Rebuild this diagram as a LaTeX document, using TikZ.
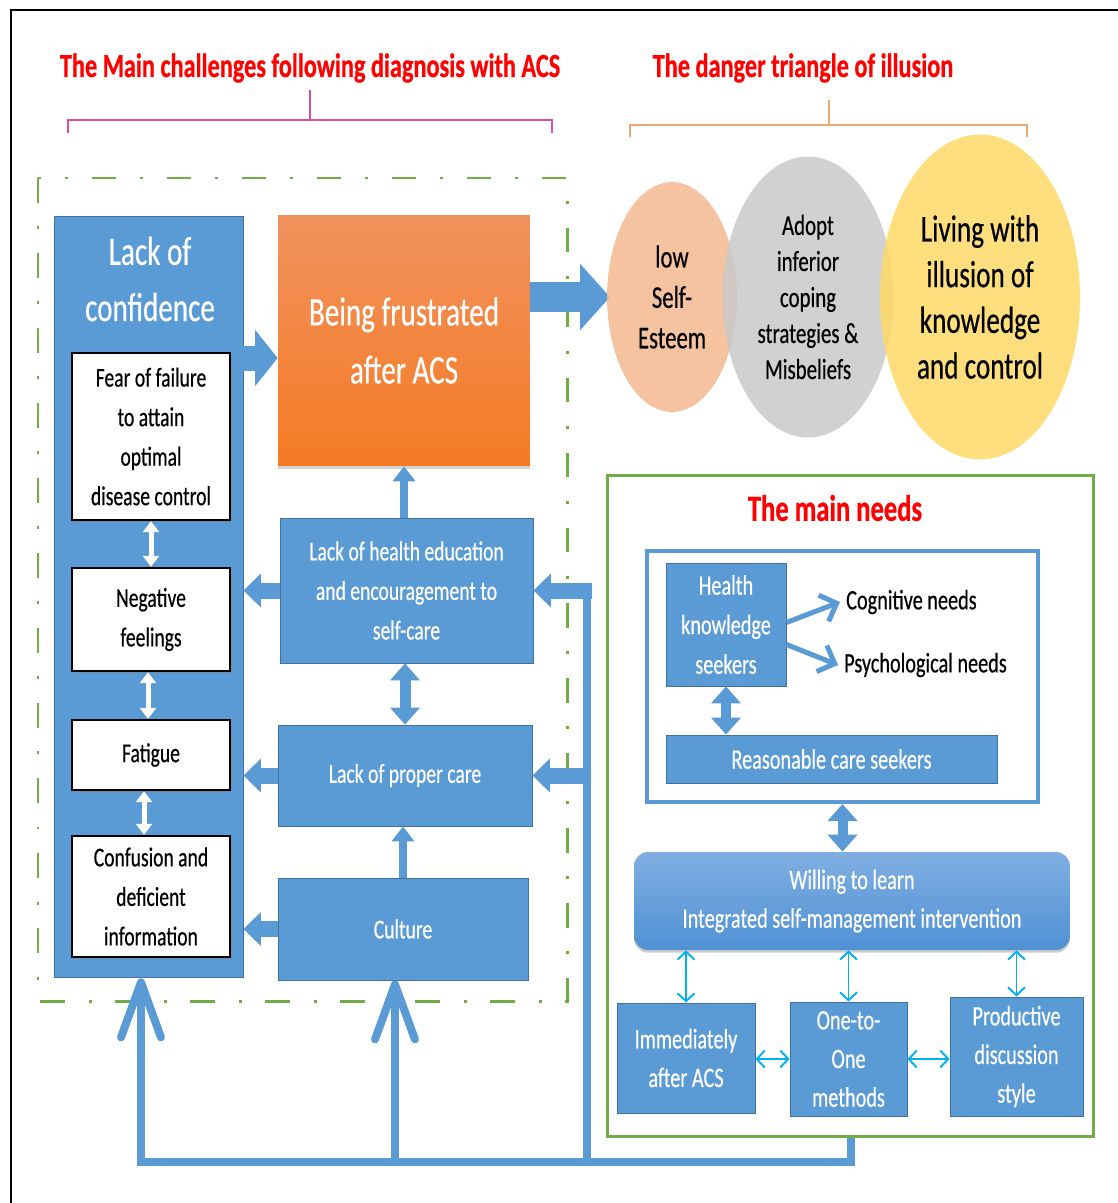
\documentclass[tikz,border=0pt]{standalone}
\usepackage{fontspec}
\setmainfont{Carlito}[FakeStretch=0.72, UprightFeatures={FakeBold=0.45}, BoldFeatures={FakeBold=0.6}]
\usepackage{xcolor}
\usetikzlibrary{arrows.meta,calc,positioning,shapes.geometric,shadows}
\definecolor{boxblue}{RGB}{91,155,213}
\definecolor{boxedge}{RGB}{65,113,156}
\definecolor{frgreen}{RGB}{112,173,71}
\definecolor{linkcyan}{RGB}{0,176,240}
\definecolor{orgtop}{RGB}{241,146,94}
\definecolor{orgbot}{RGB}{244,123,36}
\definecolor{salmon}{RGB}{245,184,145}
\definecolor{ellgray}{RGB}{201,201,201}
\definecolor{ellyellow}{RGB}{255,217,102}
\definecolor{willtop}{RGB}{128,175,226}
\definecolor{willbot}{RGB}{80,145,212}
\definecolor{brpink}{RGB}{219,80,158}
\definecolor{brorange}{RGB}{242,165,115}
\newcommand\cellfont{\fontsize{15.5}{22.5}\selectfont}

\begin{document}
\begin{tikzpicture}[x=0.02cm,y=-0.02cm,
  bluebox/.style={rectangle, fill=boxblue, draw=boxedge, line width=0.5pt, text=white, align=center, inner sep=0pt, font=\cellfont},
  whitebox/.style={rectangle, fill=white, draw=black, line width=1.4pt, align=center, inner sep=0pt, font=\cellfont,
    drop shadow={opacity=0.45, shadow xshift=1.2pt, shadow yshift=-1.2pt}},
  bubble/.style={ellipse, inner sep=0pt, fill opacity=0.85, text opacity=1, align=center},
  heading/.style={text=red, font=\fontsize{19.2}{23}\selectfont\bfseries},
  needtxt/.style={font=\fontsize{16}{20}\selectfont},
  fatarr/.style={boxblue, line width=0.5cm, -{Triangle[length=0.45cm,width=1.1cm]}},
  sidearr/.style={boxblue, line width=0.32cm, -{Triangle[length=0.35cm,width=0.66cm]}},
  uparr/.style={boxblue, line width=0.16cm, -{Triangle[length=0.3cm,width=0.44cm]}},
  duparr/.style={boxblue, line width=0.22cm, {Triangle[length=0.34cm,width=0.58cm]}-{Triangle[length=0.34cm,width=0.58cm]}},
  wlink/.style={white, line width=0.1cm, {Triangle[length=0.22cm,width=0.32cm]}-{Triangle[length=0.22cm,width=0.32cm]}},
  clink/.style={linkcyan, line width=1.1pt, {Straight Barb[length=0.16cm,width=0.34cm]}-{Straight Barb[length=0.16cm,width=0.34cm]}},
  needarr/.style={boxblue, line width=0.1cm, -{Straight Barb[length=0.28cm,width=0.56cm]}},
  bus/.style={boxblue, line width=0.16cm},
  busarr/.style={bus, -{Straight Barb[length=1.1cm,width=0.8cm,round]}}]
\useasboundingbox (0,0) rectangle (1118,1203);
% outer frame
\draw[line width=1.7pt] (11,1203) -- (11,10) -- (1118,10);

% headings and brackets
\node[heading] (chal) at (310,68) {The Main challenges following diagnosis with ACS};
\node[heading] (illu) at (803,68) {The danger triangle of illusion};
\draw[brpink, line width=1.1pt] (68,133) -- (68,120) -- (552,120) -- (552,133);
\draw[brpink, line width=1.1pt] (310,120) -- (310,90);
\draw[brorange, line width=1.1pt] (630,137) -- (630,125) -- (1027,125) -- (1027,137);
\draw[brorange, line width=1.1pt] (829,125) -- (829,100);

% frames
\draw[frgreen, line width=1.7pt, dash pattern=on 14pt off 13.5pt on 1.7pt off 13.5pt] (38,178) rectangle (567,1001);
\node[draw=frgreen, line width=1.7pt, minimum width=9.74cm, minimum height=13.24cm] (needs) at (850.5,806) {};

% challenges
\node[bluebox, minimum width=3.78cm, minimum height=15.24cm] (conf) at (148.5,597) {};
\node[text=white, align=center, font=\fontsize{23}{32}\selectfont] (conftitle) at (150,279) {Lack of\\confidence};
\node[whitebox, minimum width=3.16cm, minimum height=3.34cm] (fear) at (151,436.5) {Fear of failure\\to attain\\optimal\\disease control};
\node[whitebox, minimum width=3.16cm, minimum height=2.06cm] (neg) at (151,619.5) {Negative\\feelings};
\node[whitebox, minimum width=3.16cm, minimum height=1.4cm] (fat) at (151,755) {Fatigue};
\node[whitebox, minimum width=3.16cm, minimum height=2.42cm] (info) at (151,896.5) {Confusion and\\deficient\\information};
\node[rectangle, top color=orgtop, bottom color=orgbot, minimum width=5.04cm, minimum height=5.02cm, text=white, align=center,
  font=\fontsize{23}{33}\selectfont, drop shadow={opacity=0.35, shadow xshift=0pt, shadow yshift=-1.5pt}] (frus) at (404,340.5) {Being frustrated\\after ACS};
\node[bluebox, minimum width=5.06cm, minimum height=2.9cm] (edu) at (406.5,590.5) {Lack of health education\\and encouragement to\\self-care};
\node[bluebox, minimum width=5.08cm, minimum height=2.02cm] (care) at (405,775.5) {Lack of proper care};
\node[bluebox, minimum width=5.0cm, minimum height=2.04cm] (cult) at (403,929) {Culture};

% danger triangle
\coordinate (lowtip) at (610,297);
\draw[fatarr, line width=0.6cm, -{Triangle[length=0.6cm,width=1.3cm]}] (frus.east |- lowtip) -- (lowtip);
\node[bubble, fill=salmon, minimum width=2.6cm, minimum height=4.6cm, font=\fontsize{18}{23}\selectfont] (low) at (672,297) {low\\Self-\\Esteem};
\node[bubble, fill=ellgray, minimum width=3.42cm, minimum height=5.62cm, font=\fontsize{16.5}{20.5}\selectfont] (adopt) at (808,297) {Adopt\\inferior\\coping\\strategies \&\\Misbeliefs};
\node[bubble, fill=ellyellow, minimum width=4cm, minimum height=6.5cm, font=\fontsize{21.5}{26}\selectfont] (living) at (980,297) {Living with\\illusion of\\knowledge\\and control};

% main needs
\node[heading, font=\fontsize{21}{25}\selectfont\bfseries] (needt) at (835,508) {The main needs};
\node[draw=boxblue, line width=2.3pt, fill=white, minimum width=7.82cm, minimum height=5.02cm] (inner) at (842.5,676.5) {};
\node[bluebox, minimum width=2.4cm, minimum height=2.46cm, font=\fontsize{16}{22.5}\selectfont] (hks) at (726,624.5) {Health\\knowledge\\seekers};
\node[needtxt, anchor=west] (cog) at (840,602) {Cognitive needs};
\node[needtxt, anchor=west] (psy) at (838,665) {Psychological needs};
\node[bluebox, minimum width=6.62cm, minimum height=0.96cm, font=\fontsize{16}{20}\selectfont] (rcs) at (831.5,759) {Reasonable care seekers};
\node[rectangle, rounded corners=8pt, top color=willtop, bottom color=willbot, minimum width=8.72cm, minimum height=1.96cm,
  text=white, align=center, font=\fontsize{16}{22}\selectfont, drop shadow={opacity=0.4, shadow xshift=0pt, shadow yshift=-1.5pt}] (will) at (852,901)
  {Willing to learn\\Integrated self-management intervention};
\node[bluebox, minimum width=2.76cm, minimum height=2.2cm, font=\fontsize{16}{22}\selectfont] (imm) at (686,1058) {Immediately\\after ACS};
\node[bluebox, minimum width=2.34cm, minimum height=2.28cm, font=\fontsize{16}{22}\selectfont] (one) at (848.5,1059) {One-to-\\One\\methods};
\node[bluebox, minimum width=2.66cm, minimum height=2.38cm, font=\fontsize{16}{22}\selectfont] (prod) at (1016.5,1056.5) {Productive\\discussion\\style};

% links, left part
\coordinate (fa) at ([yshift=4.78cm]conf.east);
\draw[fatarr] (fa) -- (fa -| frus.west);
\draw[wlink] (fear.south) -- (neg.north);
\draw[wlink] ([xshift=-0.06cm]neg.south) -- ([xshift=-0.06cm]fat.north);
\draw[wlink] ([xshift=-0.14cm]fat.south) -- ([xshift=-0.14cm]info.north);
\draw[uparr] (frus.south |- edu.north) -- (frus.south);
\draw[duparr] (care.north) -- (care.north |- edu.south);
\draw[uparr] (cult.north) -- (cult.north |- care.south);
\draw[sidearr] (edu.west) -- (edu.west -| conf.east);
\draw[sidearr] (care.west) -- (care.west -| conf.east);
\draw[sidearr] (cult.west) -- (cult.west -| conf.east);

% links, needs
\draw[needarr] ([yshift=0.04cm]hks.east) -- (cog.west);
\draw[needarr] ([yshift=-0.4cm]hks.east) -- (psy.west);
\draw[duparr, line width=0.2cm] (hks.south) -- (hks.south |- rcs.north);
\draw[duparr, line width=0.2cm] (inner.south) -- (inner.south |- will.north);
\draw[clink] (imm.north |- will.south) -- (imm.north);
\draw[clink] (one.north |- will.south) -- (one.north);
\draw[clink] (prod.north |- will.south) -- (prod.north);
\draw[clink] (imm.east |- one.west) -- (one.west);
\draw[clink] (one.east) -- (one.east -| prod.west);

% feedback bus
\coordinate (b1) at (141,1162);
\coordinate (b2) at (395,1162);
\coordinate (b3) at (587,1162);
\draw[busarr] (needs.south) |- (b1) -- (b1 |- conf.south);
\draw[busarr] (b2) -- (b2 |- cult.south);
\draw[bus] (b3) -- ([yshift=0.12cm]b3 |- edu.east);
\draw[sidearr] ([xshift=0.1cm]b3 |- edu.east) -- (edu.east);
\draw[sidearr] (b3 |- care.east) -- (care.east);
\end{tikzpicture}
\end{document}
